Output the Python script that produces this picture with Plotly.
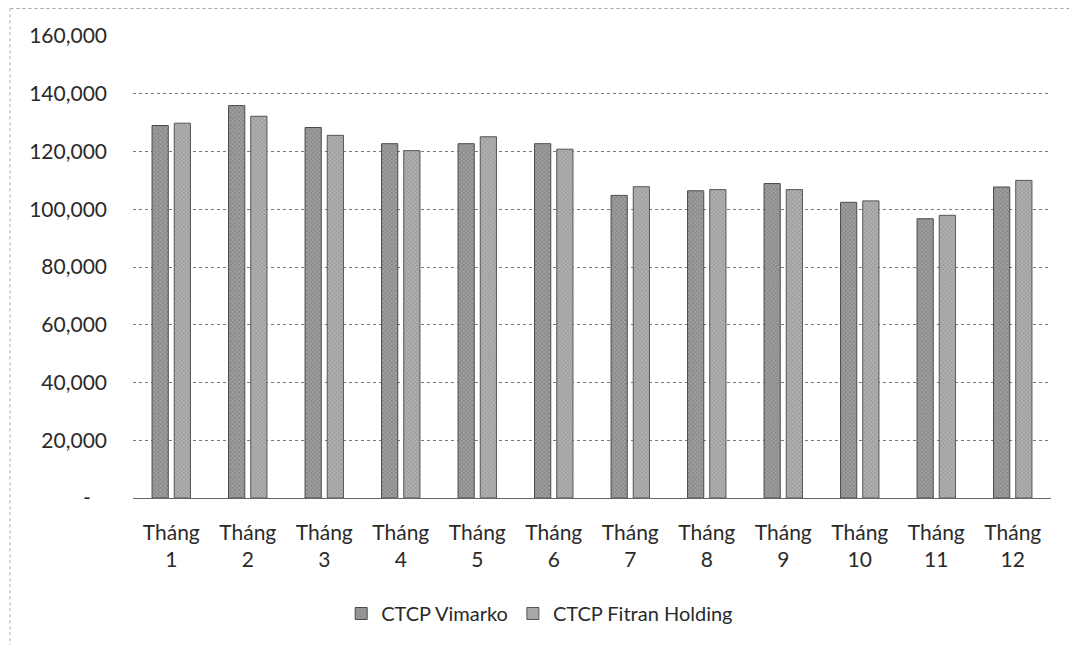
import plotly.graph_objects as go

months = ["Tháng<br>1", "Tháng<br>2", "Tháng<br>3", "Tháng<br>4", "Tháng<br>5", "Tháng<br>6",
          "Tháng<br>7", "Tháng<br>8", "Tháng<br>9", "Tháng<br>10", "Tháng<br>11", "Tháng<br>12"]
vimarko = [129000, 135900, 128300, 122700, 122700, 122700, 104800, 106400, 108900, 102400, 96700, 107700]
fitran = [129800, 132200, 125600, 120300, 125100, 120800, 107800, 106800, 106800, 102900, 97900, 110000]
ytick_vals = [0, 20000, 40000, 60000, 80000, 100000, 120000, 140000, 160000]
ytick_text = ["-\u00a0\u00a0\u00a0", "20,000", "40,000", "60,000", "80,000", "100,000", "120,000", "140,000", "160,000"]

FONT = "Lato, 'Open Sans', sans-serif"

fig = go.Figure()
fig.add_trace(go.Bar(
    name="CTCP Vimarko", x=months, y=vimarko,
    marker=dict(color="#8c8c8c", line=dict(color="#4a4a4a", width=1),
                pattern=dict(shape="x", size=3, solidity=0.35, fgcolor="#555555", bgcolor="#9e9e9e")),
))
fig.add_trace(go.Bar(
    name="CTCP Fitran Holding", x=months, y=fitran,
    marker=dict(color="#9a9a9a", line=dict(color="#555555", width=1),
                pattern=dict(shape="x", size=3, solidity=0.3, fgcolor="#666666", bgcolor="#b0b0b0")),
))

fig.update_layout(
    width=1061, height=637,
    margin=dict(l=125, r=18, t=28, b=139),
    paper_bgcolor="white", plot_bgcolor="white",
    barmode="group", bargap=0.42, bargroupgap=0.27,
    font=dict(family=FONT, size=20, color="#2a2a2a"),
    showlegend=True,
    legend=dict(orientation="h", x=0.443, xanchor="center", y=-0.25, yanchor="middle",
                font=dict(family=FONT, size=20, color="#2a2a2a"), itemwidth=30),
    xaxis=dict(showgrid=False, showline=False, ticks="", tickfont=dict(size=21),
               ticklabelstandoff=20, automargin=False),
    yaxis=dict(range=[0, 160000], tickvals=ytick_vals, ticktext=ytick_text,
               showgrid=True, gridcolor="#7a7a7a", gridwidth=1, griddash="dot",
               zeroline=True, zerolinecolor="#666666", zerolinewidth=1, automargin=False,
               showline=False, ticks="", ticklabelstandoff=25, tickfont=dict(size=21)),
    shapes=[
        dict(type="line", xref="paper", yref="paper", x0=-0.14, x1=1.03, y0=1.06, y1=1.06,
             line=dict(color="#888888", width=1, dash="dot")),
        dict(type="line", xref="paper", yref="paper", x0=-0.134, x1=-0.134, y0=1.06, y1=-0.33,
             line=dict(color="#aaaaaa", width=1, dash="dot")),
    ],
)

fig.write_html("out.html")
